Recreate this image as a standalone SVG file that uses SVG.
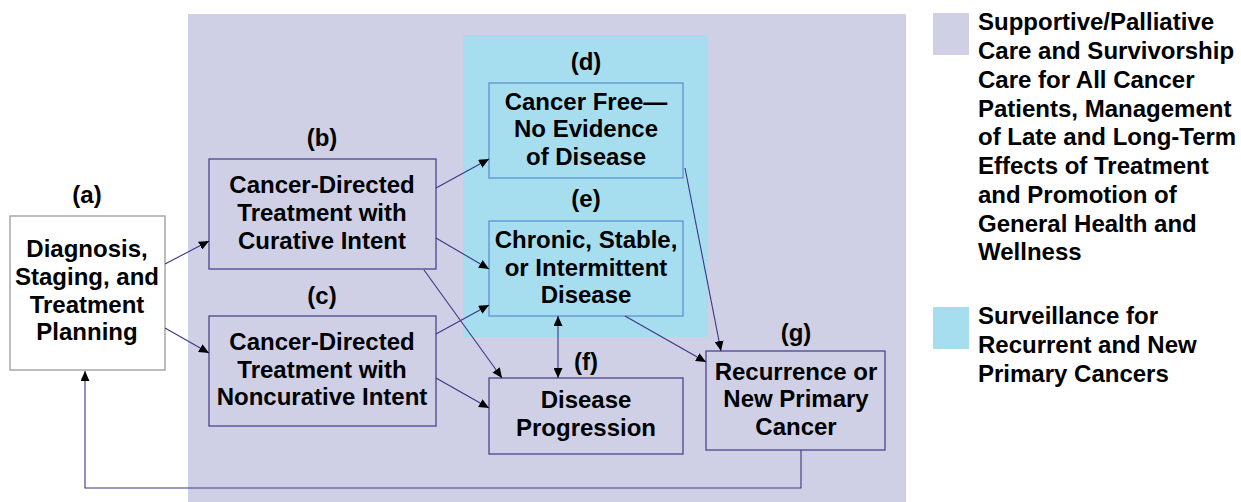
<svg xmlns="http://www.w3.org/2000/svg" width="1241" height="502" viewBox="0 0 1241 502">
<style>
text{font-family:"Liberation Sans",Arial,sans-serif;font-weight:bold;font-size:24px;fill:#000}
.c{text-anchor:middle}
.lbl{font-weight:normal;font-size:25px}
.box{fill:none;stroke:#4a4590;stroke-width:1.3}
.sbox{fill:none;stroke:#5b92d2;stroke-width:1.3}
.conn{fill:none;stroke:#3c3585;stroke-width:1.1}
</style>
<defs>
<marker id="ah" markerUnits="userSpaceOnUse" markerWidth="10" markerHeight="9" refX="10" refY="4.5" orient="auto-start-reverse" viewBox="0 0 10 9">
<path d="M0,0 L10,4.5 L0,9 z" fill="#000"/>
</marker>
</defs>
<rect width="1241" height="502" fill="#fff"/>
<g id="backgrounds">
<rect x="188" y="14" width="718" height="488" fill="#cfd0e6"/>
<rect x="463" y="35" width="245" height="302" fill="#a6def0"/>
</g>
<g id="node-a">
<rect x="10" y="216" width="155" height="154" fill="#fff" stroke="#9a9a9a" stroke-width="1.3"/>
<text class="c" x="87" y="257">Diagnosis,</text>
<text class="c" x="87" y="285">Staging, and</text>
<text class="c" x="87" y="313">Treatment</text>
<text class="c" x="87" y="340">Planning</text>
<text class="c" x="87" y="203">(a)</text>
</g>
<g id="node-b">
<rect class="box" x="209" y="159" width="227" height="110"/>
<text class="c" x="322" y="193">Cancer-Directed</text>
<text class="c" x="322" y="221">Treatment with</text>
<text class="c" x="322" y="249">Curative Intent</text>
<text class="c" x="322" y="146">(b)</text>
</g>
<g id="node-c">
<rect class="box" x="209" y="316" width="227" height="110"/>
<text class="c" x="322" y="350">Cancer-Directed</text>
<text class="c" x="322" y="378">Treatment with</text>
<text class="c" x="322" y="405">Noncurative Intent</text>
<text class="c" x="322" y="304">(c)</text>
</g>
<g id="node-d">
<rect class="sbox" x="489" y="83" width="194" height="95"/>
<text class="c" x="586" y="110">Cancer Free—</text>
<text class="c" x="586" y="137">No Evidence</text>
<text class="c" x="586" y="165">of Disease</text>
<text class="c" x="586" y="70">(d)</text>
</g>
<g id="node-e">
<rect class="sbox" x="489" y="221" width="194" height="95"/>
<text class="c" x="586" y="248">Chronic, Stable,</text>
<text class="c" x="586" y="276">or Intermittent</text>
<text class="c" x="586" y="303">Disease</text>
<text class="c" x="586" y="207">(e)</text>
</g>
<g id="node-f">
<rect class="box" x="489" y="378" width="194" height="76"/>
<text class="c" x="586" y="408">Disease</text>
<text class="c" x="586" y="436">Progression</text>
<text class="c" x="586" y="370">(f)</text>
</g>
<g id="node-g">
<rect class="box" x="706" y="351" width="179" height="99"/>
<text class="c" x="796" y="380">Recurrence or</text>
<text class="c" x="796" y="407">New Primary</text>
<text class="c" x="796" y="435">Cancer</text>
<text class="c" x="796" y="341">(g)</text>
</g>
<g id="connectors">
<path class="conn" d="M165,264 L209,241" marker-end="url(#ah)"/>
<path class="conn" d="M165,328 L209,353" marker-end="url(#ah)"/>
<path class="conn" d="M436,188 L489,159" marker-end="url(#ah)"/>
<path class="conn" d="M436,238 L489,269" marker-end="url(#ah)"/>
<path class="conn" d="M424,270 L502,378" marker-end="url(#ah)"/>
<path class="conn" d="M436,334 L489,305" marker-end="url(#ah)"/>
<path class="conn" d="M436,378 L489,408" marker-end="url(#ah)"/>
<path class="conn" d="M558,316 L558,378" marker-start="url(#ah)" marker-end="url(#ah)"/>
<path class="conn" d="M685,168 L721,351" marker-end="url(#ah)"/>
<path class="conn" d="M625,316 L706,362" marker-end="url(#ah)"/>
<path class="conn" d="M801,450 V488 H85 V371" marker-end="url(#ah)"/>
</g>
<g id="legend">
<rect x="933" y="13" width="36" height="42" fill="#cfd0e6"/>
<rect x="933" y="307" width="36" height="42" fill="#a6def0"/>
<text x="978" y="30">Supportive/Palliative</text>
<text x="978" y="59">Care and Survivorship</text>
<text x="978" y="88">Care for All Cancer</text>
<text x="978" y="117">Patients, Management</text>
<text x="978" y="145">of Late and Long-Term</text>
<text x="978" y="174">Effects of Treatment</text>
<text x="978" y="203">and Promotion of</text>
<text x="978" y="232">General Health and</text>
<text x="978" y="260">Wellness</text>
<text x="978" y="324">Surveillance for</text>
<text x="978" y="353">Recurrent and New</text>
<text x="978" y="382">Primary Cancers</text>
</g>
</svg>
